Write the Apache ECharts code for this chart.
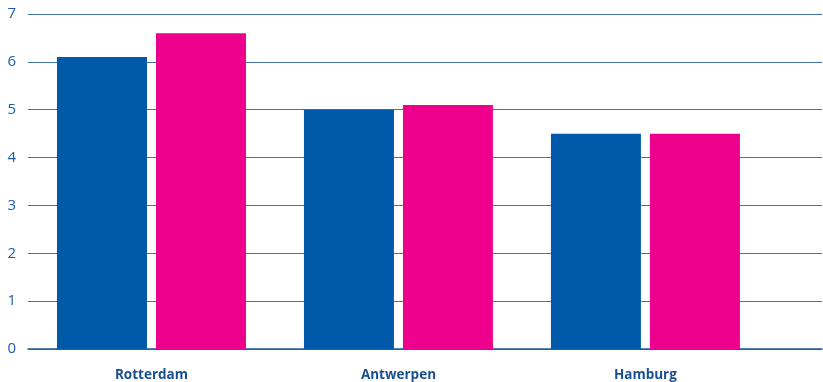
<!DOCTYPE html>
<html>
<head>
<meta charset="utf-8">
<script src="https://cdn.jsdelivr.net/npm/echarts@6/dist/echarts.min.js"></script>
<style>
  html, body { margin: 0; padding: 0; background: #fff; }
  #chart { width: 823px; height: 382px; }
</style>
</head>
<body>
<div id="chart"></div>
<script>
// Port names and their slot positions on the horizontal axis
const categories = ['Rotterdam', 'Antwerpen', 'Hamburg'];
const slots = [0.5, 1.5, 2.5];
// Two series of values per port
const seriesA = [6.1, 5.0, 4.5];
const seriesB = [6.6, 5.1, 4.5];
const yTicks = [0, 1, 2, 3, 4, 5, 6, 7];

const chart = echarts.init(document.getElementById('chart'));
chart.setOption({
  animation: false,
  grid: { left: 28, right: 1, top: 14, bottom: 33 },
  xAxis: {
    type: 'value',
    min: 0,
    max: 3.215,
    interval: 0.5,
    axisLine: { show: true, lineStyle: { color: '#1f5a9e', width: 1.5 } },
    axisTick: { show: false },
    splitLine: { show: false },
    axisLabel: {
      margin: 19,
      color: '#1a4f8f',
      fontFamily: 'Open Sans',
      fontWeight: 'bold',
      fontSize: 13.5,
      showMaxLabel: false,
      formatter: function (v) {
        const i = slots.indexOf(Math.round(v * 10) / 10);
        return i >= 0 ? categories[i] : '';
      }
    }
  },
  yAxis: {
    type: 'value',
    min: yTicks[0],
    max: yTicks[yTicks.length - 1],
    interval: 1,
    axisLine: { show: false },
    axisTick: { show: false },
    axisLabel: { color: '#1a5ea8', fontFamily: 'Open Sans', fontSize: 15, margin: 12 },
    splitLine: { lineStyle: { color: '#3f73b3', width: 1 } }
  },
  series: [
    {
      type: 'bar',
      data: slots.map((x, i) => [x, seriesA[i]]),
      barWidth: 90,
      barGap: '10%',
      itemStyle: { color: '#005aa9' }
    },
    {
      type: 'bar',
      data: slots.map((x, i) => [x, seriesB[i]]),
      barWidth: 90,
      barGap: '10%',
      itemStyle: { color: '#ec008c' }
    }
  ]
});
</script>
</body>
</html>
